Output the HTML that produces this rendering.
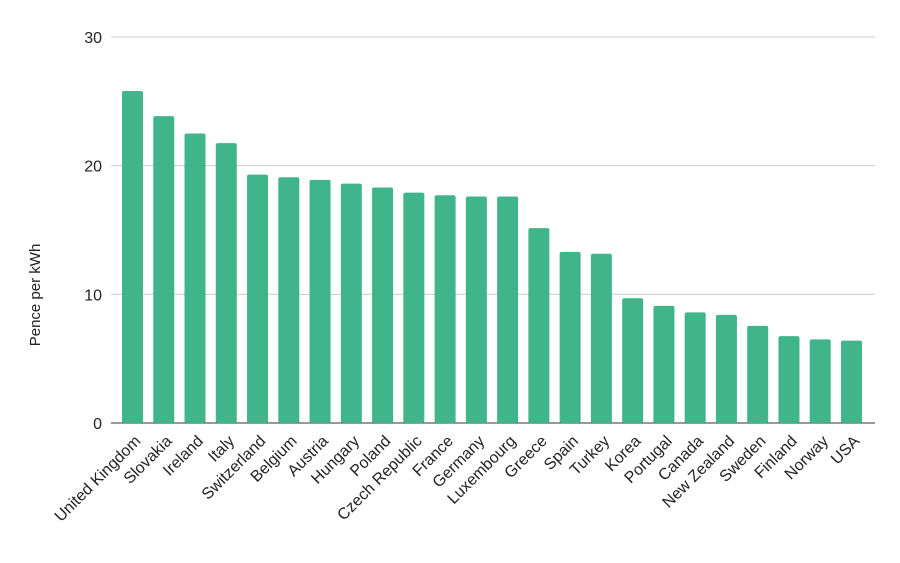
<!DOCTYPE html>
<html><head><meta charset="utf-8"><style>
body{margin:0;background:#fff;}
svg text{font-family:"Liberation Sans",Arial,sans-serif;fill:#222;}
</style></head><body>
<svg id="chart" width="900" height="558"></svg>
<script>
const categories=["United Kingdom","Slovakia","Ireland","Italy","Switzerland","Belgium","Austria","Hungary","Poland","Czech Republic","France","Germany","Luxembourg","Greece","Spain","Turkey","Korea","Portugal","Canada","New Zealand","Sweden","Finland","Norway","USA"];
const values=[25.8,23.85,22.5,21.75,19.3,19.1,18.9,18.6,18.3,17.9,17.7,17.6,17.6,15.15,13.3,13.15,9.7,9.1,8.6,8.4,7.55,6.75,6.5,6.4];
const ticks=[0,10,20,30];
const svg=document.getElementById('chart');
const NS='http://www.w3.org/2000/svg';
const y0=423,yTop=37,vmax=30;
const y=v=>y0-(v/vmax)*(y0-yTop);
const step=31.26,x0=132.5,bw=21;
const x=i=>x0+i*step;
function mk(t,a){const e=document.createElementNS(NS,t);for(const k in a)e.setAttribute(k,a[k]);svg.appendChild(e);return e;}
ticks.forEach(t=>{
 const l=mk('line',{x1:111,x2:875,y1:y(t),y2:y(t),stroke:t===0?'#333':'#ccc','stroke-width':1});
 
 
 const tx=mk('text',{x:102,y:y(t)+6,'text-anchor':'end','font-size':16});
 tx.textContent=t;
 
 
});
values.forEach((v,i)=>{
 const r=mk('rect',{x:x(i)-bw/2,y:y(v),width:bw,height:y0-y(v),rx:2,fill:'#40b48a'});
 
 
 const ax=x(i)+9,ay=y0+19;
 const t=mk('text',{x:ax,y:ay,'text-anchor':'end','font-size':16,transform:`rotate(-45 ${ax} ${ay})`});
 t.textContent=categories[i];
 
 
});
const yt=mk('text',{x:40,y:295,'text-anchor':'middle','font-size':15,transform:'rotate(-90 40 295)'});
yt.textContent='Pence per kWh';


</script>
</body></html>
